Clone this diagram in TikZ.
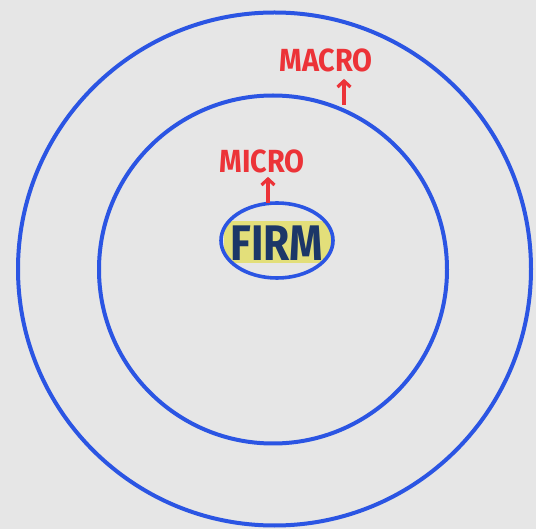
\documentclass[tikz,border=0pt]{standalone}
\usepackage{fontspec}
\setmainfont{Fira Sans}
\usetikzlibrary{arrows.meta,shapes.geometric}
\definecolor{bg}{HTML}{E6E6E6}
\definecolor{ringblue}{HTML}{2B55E3}
\definecolor{hand}{HTML}{EC3338}
\definecolor{navy}{HTML}{1C3768}
\definecolor{hilite}{HTML}{E3DF7A}
\tikzset{
  ring/.style={draw=ringblue, line width=4pt},
  lbl/.style={text=hand, font=\bfseries\fontsize{32}{32}\selectfont, inner sep=0pt, xscale=0.9},
  uparrow/.style={draw=hand, line width=3.2pt, -{Straight Barb[length=6pt,width=13pt,line width=3.2pt]}},
}
\begin{document}
\begin{tikzpicture}[x=1pt,y=-1pt]
\useasboundingbox[fill=bg] (0,0) rectangle (536,529);
\node[ring, circle, minimum size=513pt, inner sep=0pt] (outer) at (274.5,269) {};
\node[ring, circle, minimum size=348pt, inner sep=0pt] (inner) at (273,269.5) {};
\begin{scope}
  \clip (277,240.5) ellipse [x radius=56, y radius=37.5];
  \fill[hilite] (224,221) rectangle (333,263);
\end{scope}
\node[draw=ringblue, line width=3.6pt, ellipse, minimum width=112pt, minimum height=75pt, inner sep=0pt] (firmring) at (277,240.5) {};
\node[text=navy, font=\bfseries\fontsize{50}{50}\selectfont, inner sep=0pt, xscale=0.85] (firm) at (277,243) {FIRM};
\node[lbl] (micro) at (262,161) {MICRO};
\node[lbl] (macro) at (326,60) {MACRO};
\coordinate (microbase) at (268,203);
\coordinate (macrobase) at (344,105);
\draw[uparrow] (microbase) -- ([yshift=-4pt]micro.south -| microbase);
\draw[uparrow] (macrobase) -- ([yshift=-7pt]macro.south -| macrobase);
\end{tikzpicture}
\end{document}
